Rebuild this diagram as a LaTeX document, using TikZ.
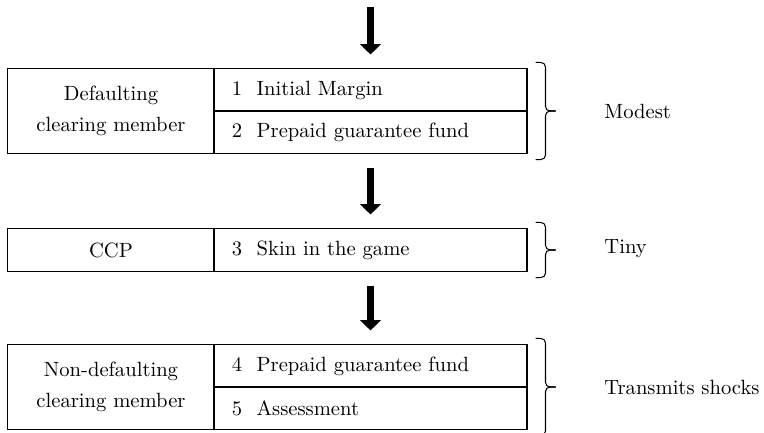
\documentclass[tikz,border=0pt]{standalone}
\usepackage{amsmath}
\usepackage{tikz}
\usetikzlibrary{arrows.meta}
\usetikzlibrary{calc}

\tikzset{
	lcell/.style={draw, line width=0.5pt, minimum width=100pt, align=center},
	rcell/.style={draw, line width=0.5pt, minimum height=20.4pt, text width=134.4pt,
		inner xsep=8.7pt, align=left},
	bigarrow/.style={-{Triangle[width=10pt,length=5pt]}, line width=3.2pt,
		shorten <=6.8pt, shorten >=6.8pt},
	rbrace/.style={line width=0.5pt, rounded corners=2.2pt},
	lvl/.style={anchor=west, inner sep=0pt}
}
% brace right of the cells from #1 (north east) down to #2 (south east)
\newcommand{\rbr}[2]{%
	\draw[rbrace] ([shift={(8,-6)}]#1) -- ++(10,0) -- ($(#1)!0.5!(#2)+(18,0)$) -- ++(10,0);
	\draw[rbrace] ([shift={(8,6)}]#2) -- ++(10,0) -- ($(#1)!0.5!(#2)+(18,0)$) -- ++(10,0);
}

\begin{document}
\begin{tikzpicture}[x=0.485pt, y=-0.485pt]
	\useasboundingbox (0,0) rectangle (764,432);

	% the three layers
		\node[lcell, minimum height=40.8pt] (dcm) at (111,111) {Defaulting\\[3pt]clearing member};
		\node[rcell] (im) at (370.5,90) {1\hspace{7pt}Initial Margin};
		\node[rcell] (pgf) at (370.5,132) {2\hspace{7pt}Prepaid guarantee fund};

		\node[lcell, minimum height=20.4pt] (ccp) at (111,250) {CCP};
		\node[rcell] (sig) at (370.5,250) {3\hspace{7pt}Skin in the game};

		\node[lcell, minimum height=40.8pt] (ndcm) at (111,387) {Non-defaulting\\[3pt]clearing member};
		\node[rcell] (pgf2) at (370.5,366) {4\hspace{7pt}Prepaid guarantee fund};
		\node[rcell] (ass) at (370.5,408) {5\hspace{7pt}Assessment};

	% arrows down the waterfall
		\coordinate (top) at (370.5,-7);
		\draw[bigarrow] (top) -- (im.north);
		\draw[bigarrow] (pgf.south) -- (sig.north);
		\draw[bigarrow] (sig.south) -- (pgf2.north);

	% braces and what they mean
		\rbr{im.north east}{pgf.south east}
		\rbr{sig.north east}{sig.south east}
		\rbr{pgf2.north east}{ass.south east}
		\node[lvl] (modest) at (604,111) {Modest};
		\node[lvl] (tiny) at (604,249) {Tiny};
		\node[lvl] (shocks) at (604,387) {Transmits shocks};
\end{tikzpicture}
\end{document}
